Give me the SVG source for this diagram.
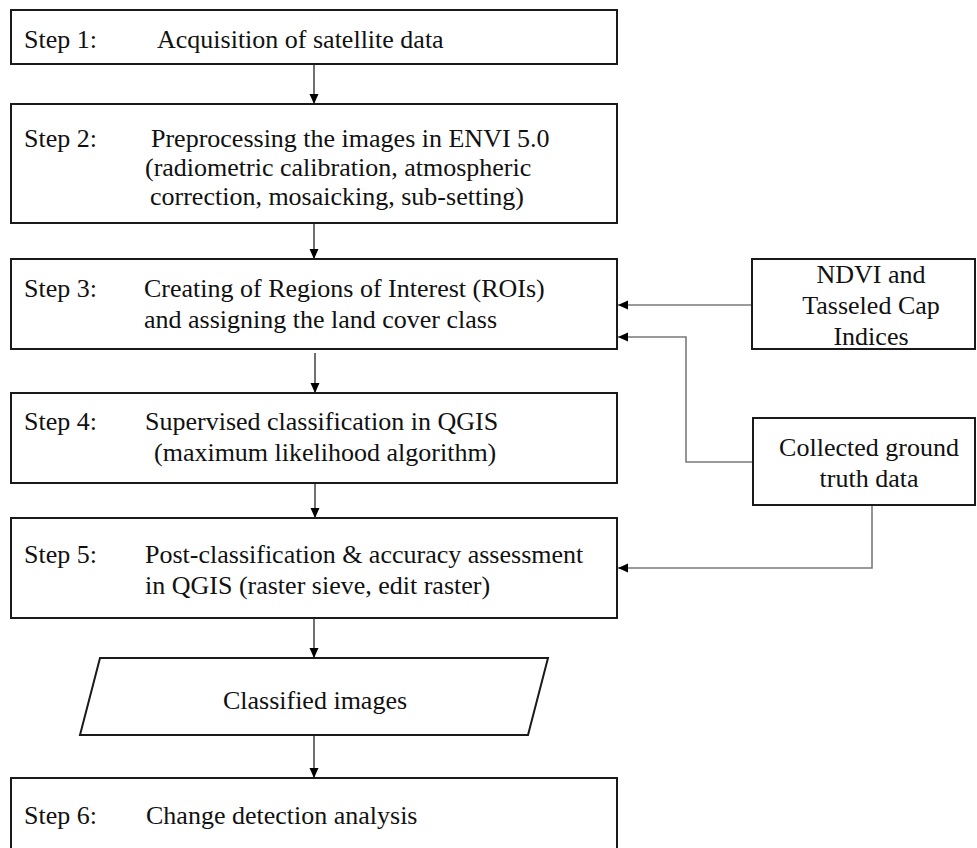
<svg xmlns="http://www.w3.org/2000/svg" width="977" height="848" viewBox="0 0 977 848">
  <style>
    .box { fill: #ffffff; stroke: #1a1a1a; stroke-width: 2; }
    .t { font-family: "Liberation Serif", "Times New Roman", serif; font-size: 26px; fill: #111111; }
    .mid { text-anchor: middle; }
    .flow { fill: none; stroke: #111111; stroke-width: 1.2; }
    .side { fill: none; stroke: #7a7a7a; stroke-width: 1.6; }
  </style>
  <defs>
    <marker id="arrow" markerUnits="userSpaceOnUse" markerWidth="10" markerHeight="10" viewBox="0 0 10 10" refX="10" refY="5" orient="auto">
      <path d="M0,0.5 L10,5 L0,9.5 Z" fill="#000000"/>
    </marker>
  </defs>
  <rect width="977" height="848" fill="#ffffff"/>

  <!-- connectors -->
  <g id="connectors">
    <line class="flow" x1="314" y1="64" x2="314" y2="104" marker-end="url(#arrow)"/>
    <line class="flow" x1="314" y1="223" x2="314" y2="259" marker-end="url(#arrow)"/>
    <line class="flow" x1="315" y1="353" x2="315" y2="393" marker-end="url(#arrow)"/>
    <line class="flow" x1="315" y1="483" x2="315" y2="518" marker-end="url(#arrow)"/>
    <line class="flow" x1="314" y1="618" x2="314" y2="658" marker-end="url(#arrow)"/>
    <line class="flow" x1="314" y1="735" x2="314" y2="778" marker-end="url(#arrow)"/>
    <polyline class="side" points="752,305 618,305" marker-end="url(#arrow)"/>
    <polyline class="side" points="753,462 686,462 686,337 618,337" marker-end="url(#arrow)"/>
    <polyline class="side" points="872,505 872,568 618,568" marker-end="url(#arrow)"/>
  </g>

  <g id="step1">
    <rect class="box" x="11" y="10" width="606" height="54"/>
    <text class="t" x="24" y="48">Step 1:</text>
    <text class="t" x="157" y="48">Acquisition of satellite data</text>
  </g>

  <g id="step2">
    <rect class="box" x="11" y="104" width="606" height="119"/>
    <text class="t" x="24" y="147">Step 2:</text>
    <text class="t" x="151" y="147">Preprocessing the images in ENVI 5.0</text>
    <text class="t" x="145" y="176">(radiometric calibration, atmospheric</text>
    <text class="t" x="150" y="205">correction, mosaicking, sub-setting)</text>
  </g>

  <g id="step3">
    <rect class="box" x="11" y="259" width="606" height="90"/>
    <text class="t" x="24" y="297">Step 3:</text>
    <text class="t" x="144" y="297">Creating of Regions of Interest (ROIs)</text>
    <text class="t" x="144" y="328">and assigning the land cover class</text>
  </g>

  <g id="step4">
    <rect class="box" x="11" y="393" width="606" height="90"/>
    <text class="t" x="24" y="430">Step 4:</text>
    <text class="t" x="145" y="430">Supervised classification in QGIS</text>
    <text class="t" x="154" y="461">(maximum likelihood algorithm)</text>
  </g>

  <g id="step5">
    <rect class="box" x="11" y="518" width="606" height="100"/>
    <text class="t" x="24" y="563">Step 5:</text>
    <text class="t" x="145" y="563">Post-classification &amp; accuracy assessment</text>
    <text class="t" x="145" y="594">in QGIS (raster sieve, edit raster)</text>
  </g>

  <g id="classified">
    <polygon class="box" points="100,658 548,658 528,735 80,735"/>
    <text class="t mid" x="315" y="709">Classified images</text>
  </g>

  <g id="step6">
    <rect class="box" x="11" y="778" width="606" height="80"/>
    <text class="t" x="24" y="824">Step 6:</text>
    <text class="t" x="146" y="824">Change detection analysis</text>
  </g>

  <g id="indices">
    <rect class="box" x="752" y="259" width="223" height="90"/>
    <text class="t mid" x="871" y="283">NDVI and</text>
    <text class="t mid" x="871" y="314">Tasseled Cap</text>
    <text class="t mid" x="871" y="345">Indices</text>
  </g>

  <g id="groundtruth">
    <rect class="box" x="753" y="418" width="222" height="87"/>
    <text class="t mid" x="869" y="456">Collected ground</text>
    <text class="t mid" x="869" y="487">truth data</text>
  </g>
</svg>
